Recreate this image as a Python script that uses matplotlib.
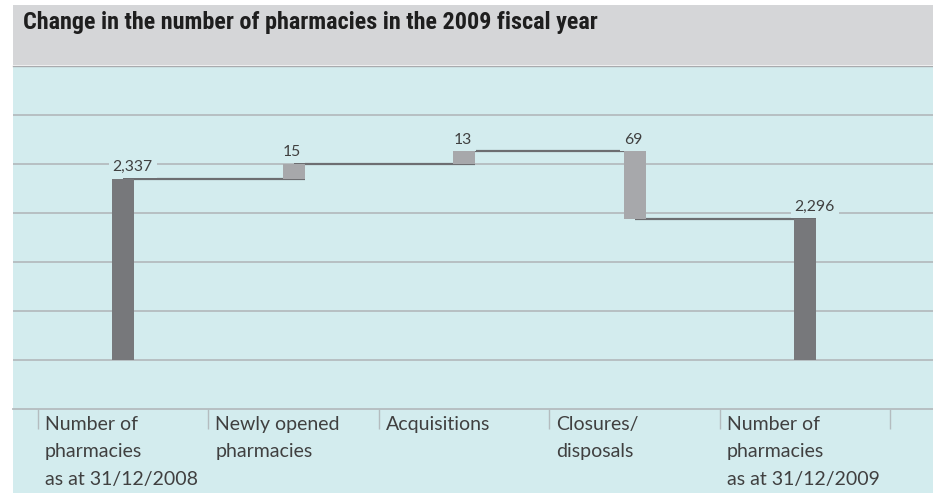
import matplotlib
matplotlib.use("Agg")
import matplotlib.pyplot as plt
from matplotlib import font_manager as fm
from matplotlib.patches import Rectangle

# ---------------- data ----------------
categories = ["Number of\npharmacies\nas at 31/12/2008",
              "Newly opened\npharmacies",
              "Acquisitions",
              "Closures/\ndisposals",
              "Number of\npharmacies\nas at 31/12/2009"]
start_value = 2337
changes = [15, 13, -69]
end_value = 2296
title = "Change in the number of pharmacies in the 2009 fiscal year"

# ---------------- style ----------------
W, H, DPI = 933, 493, 100
BLUE = "#d3ecee"
TITLE_BG = "#d5d6d8"
DARK = "#77787b"
LIGHT = "#a7a8ab"
CONNECT = "#6d6e71"
GRID = "#b4bcbf"
TEXT = "#404040"

names = {f.name for f in fm.fontManager.ttflist}
def pick(*cands):
    for c in cands:
        if c in names:
            return c
    return "DejaVu Sans"
title_font = pick("Liberation Sans Narrow", "Roboto Condensed", "Open Sans Condensed", "Roboto")
body_font = pick("Lato", "Open Sans", "Noto Sans")

fig = plt.figure(figsize=(W / DPI, H / DPI), dpi=DPI)
fig.patch.set_facecolor("white")

def fx(px):
    return px / W
def fy(py):
    return 1 - py / H

# background: title bar and blue panel (drawn in a background axes)
bg = fig.add_axes([0, 0, 1, 1], zorder=-5)
bg.set_xlim(0, W)
bg.set_ylim(H, 0)
bg.axis("off")
bg.add_patch(Rectangle((13, 5), W - 13, 60, facecolor=TITLE_BG, edgecolor="none"))
bg.add_patch(Rectangle((13, 65.5), W - 13, H - 65.5, facecolor=BLUE, edgecolor="none"))
bg.plot([13, W], [65.5, 65.5], color="#a9abae", lw=1.0)

t = fig.text(fx(23), fy(28.5), title, fontsize=13, fontweight="bold", family=title_font,
             color="#1e1e1e", va="baseline", ha="left")
# scale title to reference width
fig.canvas.draw()
bb = t.get_window_extent()
target = 596 - 23
t.set_fontsize(13 * target / bb.width)

# ---------------- axes ----------------
ax = fig.add_axes([fx(13), fy(409), fx(W) - fx(13), fy(66) - fy(409)], zorder=1)
ax.patch.set_visible(False)
px_per_unit = 0.98
base = 2152.0
ylo = base - (409 - 360) / px_per_unit
yhi = base + (360 - 66) / px_per_unit
ax.set_ylim(ylo, yhi)
xs_step = 170.5
ax.set_xlim(-(123 - 13) / xs_step, 4 + (933 - 805) / xs_step)

for s in ax.spines.values():
    s.set_visible(False)
ax.spines["bottom"].set_visible(True)
ax.spines["bottom"].set_color(GRID)
ax.spines["bottom"].set_linewidth(1.3)

grid_levels = [base + 50 * k for k in range(6)]
for g in grid_levels:
    ax.axhline(g, color=GRID, lw=1.3, zorder=1)

# waterfall
n = len(categories)
x = list(range(n))
bw = 22 / xs_step
levels = [start_value]
for c in changes:
    levels.append(levels[-1] + c)

bottoms, heights, colors, labels = [], [], [], []
bottoms.append(base); heights.append(start_value - base); colors.append(DARK)
labels.append(f"{start_value:,}")
for i, c in enumerate(changes):
    lo = min(levels[i], levels[i + 1])
    bottoms.append(lo); heights.append(abs(c)); colors.append(LIGHT)
    labels.append(f"{abs(c):,}")
bottoms.append(base); heights.append(end_value - base); colors.append(DARK)
labels.append(f"{end_value:,}")

ax.bar(x, heights, bottom=bottoms, width=bw, color=colors, zorder=3, linewidth=0)

# connectors
for i, lv in enumerate(levels):
    ax.plot([x[i], x[i + 1] + bw / 2], [lv, lv], color=CONNECT, lw=1.6, zorder=2,
            solid_capstyle="butt")

# value labels
for i in range(n):
    top = bottoms[i] + heights[i]
    ax.annotate(labels[i], (x[i] - bw / 2, top), xytext=(0.5, 7.5), textcoords="offset pixels",
                ha="left", va="baseline", fontsize=11.3, color=TEXT, family=body_font,
                zorder=5,
                bbox=dict(boxstyle="square,pad=0.25", facecolor=BLUE, edgecolor="none"))

# category dividers and labels
ax.set_xticks([])
ax.set_yticks([])
ax.set_xticks([i - 0.5 for i in range(n + 1)], minor=True)
ax.tick_params(axis="x", which="minor", length=20 * 72 / DPI, width=1.0, color=GRID,
               direction="out", labelbottom=False)
ax.tick_params(axis="x", which="major", length=0)
for i, lab in enumerate(categories):
    ax.annotate(lab, (i - 0.5, ylo), xytext=(7, -7), textcoords="offset pixels",
                ha="left", va="top", fontsize=14.0, color=TEXT, family=body_font,
                fontweight="normal", linespacing=1.74, annotation_clip=False)

fig.savefig("out.png", dpi=DPI, facecolor=fig.get_facecolor())
